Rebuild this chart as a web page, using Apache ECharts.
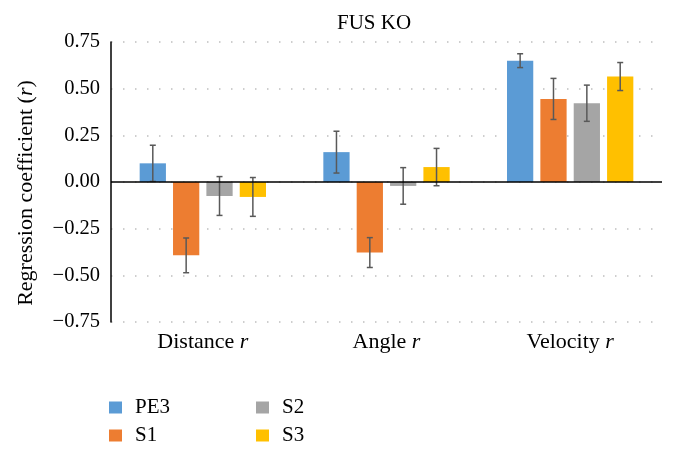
<!DOCTYPE html>
<html>
<head>
<meta charset="utf-8">
<script src="https://cdn.jsdelivr.net/npm/echarts@6/dist/echarts.min.js"></script>
<style>
html,body{margin:0;padding:0;background:#fff;}
#chart{width:675px;height:454px;}
</style>
</head>
<body>
<div id="chart"></div>
<script>
// ---- data ----
const categories = ['Distance', 'Angle', 'Velocity'];
const seriesNames = ['PE3', 'S1', 'S2', 'S3'];
const valuesPE3 = [0.10, 0.16, 0.65];
const valuesS1 = [-0.393, -0.378, 0.445];
const valuesS2 = [-0.075, -0.021, 0.422];
const valuesS3 = [-0.08, 0.08, 0.565];
const errPE3 = [0.097, 0.112, 0.037];
const errS1 = [0.093, 0.08, 0.11];
const errS2 = [0.104, 0.098, 0.097];
const errS3 = [0.104, 0.10, 0.075];
const yTicks = [-0.75, -0.5, -0.25, 0, 0.25, 0.5, 0.75];

const values = [valuesPE3, valuesS1, valuesS2, valuesS3];
const errs = [errPE3, errS1, errS2, errS3];
const colors = ['#5B9BD5', '#ED7D31', '#A5A5A5', '#FFC000'];
const FONT = 'Liberation Serif';
const BAR_W = 0.143, BAR_GAP = 0.27;

const chart = echarts.init(document.getElementById('chart'));

const series = [];
seriesNames.forEach((n, i) => {
  const s = {
    name: n, type: 'bar', data: values[i],
    barWidth: (BAR_W * 100) + '%', barGap: (BAR_GAP * 100) + '%',
    itemStyle: { color: colors[i] }, z: 2
  };
  if (i === 0) {
    s.markLine = {
      silent: true, symbol: 'none', label: { show: false },
      lineStyle: { color: '#000', width: 1.5, type: 'solid' },
      data: [{ yAxis: 0 }], z: 5
    };
  }
  series.push(s);
});
seriesNames.forEach((n, i) => {
  series.push({
    name: 'err-' + n, type: 'custom', z: 4,
    data: values[i].map((v, k) => [k, v - errs[i][k], v + errs[i][k]]),
    renderItem: function (params, api) {
      const idx = api.value(0);
      const lo = api.coord([idx, api.value(1)]);
      const hi = api.coord([idx, api.value(2)]);
      const catW = api.size([1, 0])[0];
      const bw = catW * BAR_W;
      const step = bw * (1 + BAR_GAP);
      const x = lo[0] + (i - 1.5) * step;
      const cap = 3;
      const st = { stroke: '#595959', lineWidth: 1.5 };
      return {
        type: 'group',
        children: [
          { type: 'line', shape: { x1: x, y1: lo[1], x2: x, y2: hi[1] }, style: st },
          { type: 'line', shape: { x1: x - cap, y1: lo[1], x2: x + cap, y2: lo[1] }, style: st },
          { type: 'line', shape: { x1: x - cap, y1: hi[1], x2: x + cap, y2: hi[1] }, style: st }
        ]
      };
    }
  });
});

const legendCommon = {
  orient: 'vertical', icon: 'rect', itemWidth: 13, itemHeight: 12, itemGap: 7,
  padding: 0,
  textStyle: { fontFamily: FONT, fontSize: 21, color: '#000', lineHeight: 21, padding: [0, 0, 0, 8] },
  selectedMode: false
};

chart.setOption({
  animation: false,
  backgroundColor: '#fff',
  title: {
    text: 'FUS KO', left: 332, top: 8,
    textStyle: { fontFamily: FONT, fontSize: 21, fontWeight: 'normal', color: '#000' }
  },
  legend: [
    Object.assign({}, legendCommon, { data: ['PE3', 'S1'], left: 109, top: 397 }),
    Object.assign({}, legendCommon, { data: ['S2', 'S3'], left: 256, top: 397 })
  ],
  grid: { left: 111, right: 13, top: 42, bottom: 132 },
  xAxis: {
    type: 'category', data: categories,
    axisLine: { show: false, onZero: false },
    axisTick: { show: false },
    axisLabel: {
      margin: 9, fontFamily: FONT, fontSize: 22, color: '#000',
      formatter: v => v + ' {i|r}',
      rich: { i: { fontFamily: FONT, fontSize: 22, fontStyle: 'italic', color: '#000' } }
    }
  },
  yAxis: {
    type: 'value', min: yTicks[0], max: yTicks[yTicks.length - 1], interval: 0.25,
    axisLine: { show: true, onZero: false, lineStyle: { color: '#000', width: 1.5 } },
    axisTick: { show: false },
    axisLabel: {
      margin: 11, fontFamily: FONT, fontSize: 20.5, color: '#000',
      formatter: v => (v < 0 ? '\u2212' : '') + Math.abs(v).toFixed(2)
    },
    splitLine: { show: true, lineStyle: { color: '#bfbfbf', width: 1.5, type: [1.5, 10.5] } },
    name: 'Regression coefficient ({i|r})',
    nameLocation: 'middle', nameGap: 74, nameRotate: 90,
    nameTextStyle: {
      fontFamily: FONT, fontSize: 22, color: '#000', padding: [0, 22, 0, 0],
      rich: { i: { fontFamily: FONT, fontSize: 22, fontStyle: 'italic', color: '#000' } }
    }
  },
  series: series
});
</script>
</body>
</html>
